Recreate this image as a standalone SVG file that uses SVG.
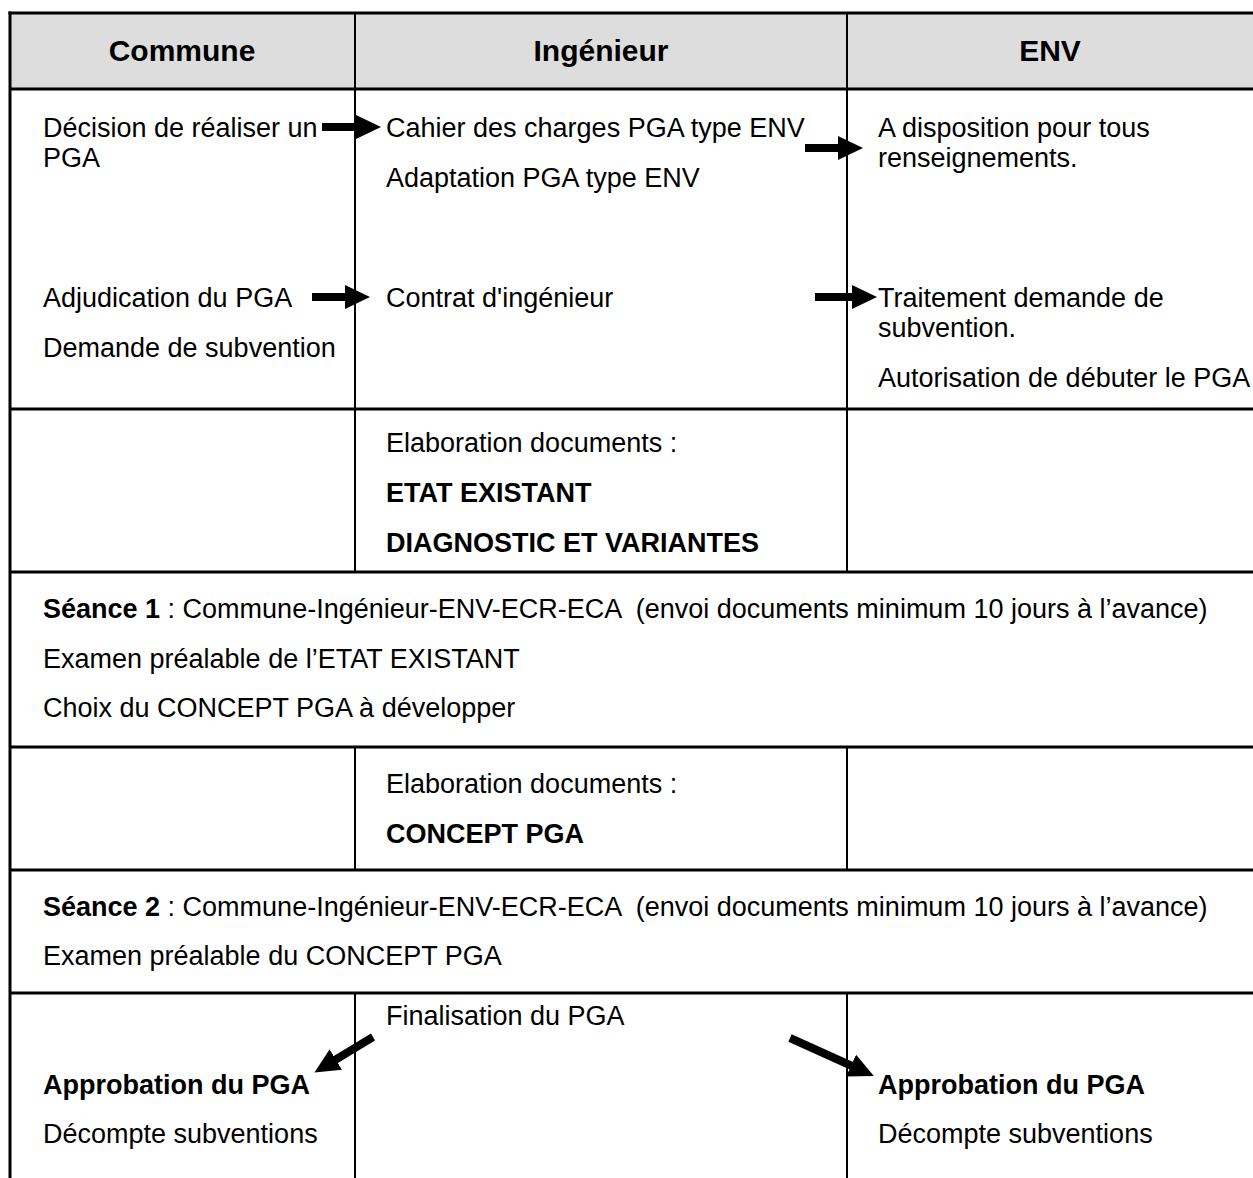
<svg xmlns="http://www.w3.org/2000/svg" width="1253" height="1178" viewBox="0 0 1253 1178">
<style>
text{font-family:"Liberation Sans",Arial,sans-serif;font-size:27px;fill:#000}
.h{font-size:30px;font-weight:bold;text-anchor:middle}
.b{font-weight:bold}
.grid line{stroke:#000;stroke-width:3}
.grid .v{stroke-width:2}
.conn line{stroke:#000;stroke-width:8}
</style>
<defs>
<marker id="ah" markerUnits="userSpaceOnUse" markerWidth="26" markerHeight="24" refX="1" refY="12" orient="auto">
<path d="M0,0 L25,12 L0,24 Z" fill="#000"/>
</marker>
</defs>
<rect x="10" y="13" width="1250" height="76" fill="#dddddd"/>
<g class="grid">
<line x1="8.5" y1="13" x2="1260" y2="13"/>
<line x1="10" y1="11.5" x2="10" y2="1178"/>
<line x1="10" y1="89" x2="1260" y2="89"/>
<line x1="10" y1="409" x2="1260" y2="409"/>
<line x1="10" y1="572" x2="1260" y2="572"/>
<line x1="10" y1="747" x2="1260" y2="747"/>
<line x1="10" y1="870" x2="1260" y2="870"/>
<line x1="10" y1="993" x2="1260" y2="993"/>
<line class="v" x1="355" y1="13" x2="355" y2="572"/>
<line class="v" x1="847" y1="13" x2="847" y2="572"/>
<line class="v" x1="355" y1="747" x2="355" y2="870"/>
<line class="v" x1="847" y1="747" x2="847" y2="870"/>
<line class="v" x1="355" y1="993" x2="355" y2="1178"/>
<line class="v" x1="847" y1="993" x2="847" y2="1178"/>
</g>
<g id="header">
<text class="h" x="182" y="61">Commune</text>
<text class="h" x="601" y="61">Ingénieur</text>
<text class="h" x="1050" y="61">ENV</text>
</g>
<g id="commune-decision"><text x="43" y="137">Décision de réaliser un</text><text x="43" y="167">PGA</text></g>
<g id="ingenieur-cahier"><text x="386" y="137">Cahier des charges PGA type ENV</text><text x="386" y="187">Adaptation PGA type ENV</text></g>
<g id="env-disposition"><text x="878" y="137">A disposition pour tous</text><text x="878" y="167">renseignements.</text></g>
<g id="commune-adjudication"><text x="43" y="307">Adjudication du PGA</text><text x="43" y="357">Demande de subvention</text></g>
<g id="ingenieur-contrat"><text x="386" y="307">Contrat d'ingénieur</text></g>
<g id="env-traitement"><text x="878" y="307">Traitement demande de</text><text x="878" y="337">subvention.</text><text x="878" y="387">Autorisation de débuter le PGA</text></g>
<g id="ingenieur-elaboration1"><text x="386" y="452">Elaboration documents :</text><text class="b" x="386" y="502">ETAT EXISTANT</text><text class="b" x="386" y="552">DIAGNOSTIC ET VARIANTES</text></g>
<g id="seance1"><text x="43" y="618"><tspan class="b">Séance 1</tspan> : Commune-Ingénieur-ENV-ECR-ECA &#160;(envoi documents minimum 10 jours à l’avance)</text><text x="43" y="668">Examen préalable de l’ETAT EXISTANT</text><text x="43" y="717">Choix du CONCEPT PGA à développer</text></g>
<g id="ingenieur-elaboration2"><text x="386" y="793">Elaboration documents :</text><text class="b" x="386" y="843">CONCEPT PGA</text></g>
<g id="seance2"><text x="43" y="916"><tspan class="b">Séance 2</tspan> : Commune-Ingénieur-ENV-ECR-ECA &#160;(envoi documents minimum 10 jours à l’avance)</text><text x="43" y="965">Examen préalable du CONCEPT PGA</text></g>
<g id="ingenieur-finalisation"><text x="386" y="1025">Finalisation du PGA</text></g>
<g id="commune-approbation"><text class="b" x="43" y="1094">Approbation du PGA</text><text x="43" y="1143">Décompte subventions</text></g>
<g id="env-approbation"><text class="b" x="878" y="1094">Approbation du PGA</text><text x="878" y="1143">Décompte subventions</text></g>
<g id="connectors" class="conn">
<line x1="322" y1="127" x2="357" y2="127" marker-end="url(#ah)"/>
<line x1="805" y1="148" x2="839" y2="148" marker-end="url(#ah)"/>
<line x1="312" y1="297" x2="346" y2="297" marker-end="url(#ah)"/>
<line x1="815" y1="297" x2="853" y2="297" marker-end="url(#ah)"/>
<line x1="373" y1="1037" x2="335" y2="1060" marker-end="url(#ah)"/>
<line x1="790" y1="1038" x2="852" y2="1066" marker-end="url(#ah)"/>
</g>
</svg>
